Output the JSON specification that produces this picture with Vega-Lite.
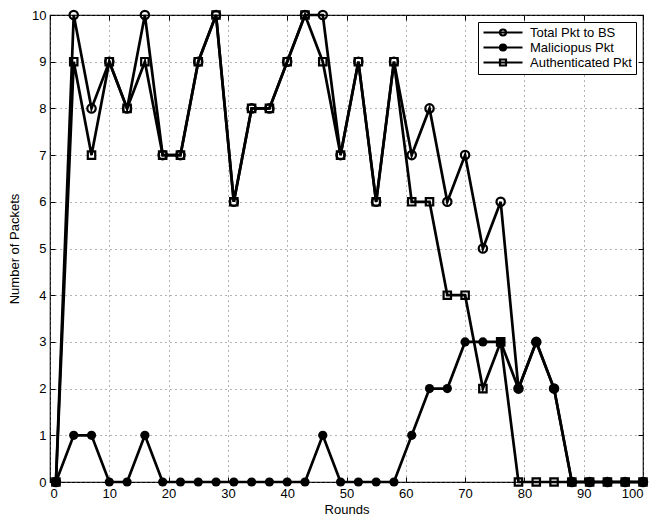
{
  "$schema": "https://vega.github.io/schema/vega-lite/v6.json",
  "width": 593,
  "height": 467,
  "autosize": {"type": "none"},
  "padding": {"left": 50, "top": 15, "right": 19, "bottom": 35},
  "background": "white",
  "config": {
    "font": "Liberation Sans",
    "view": {"stroke": "black", "strokeWidth": 1.2},
    "axis": {
      "domain": false,
      "grid": true,
      "gridColor": "#666666",
      "gridDash": [1, 4],
      "gridWidth": 1,
      "tickColor": "black",
      "tickSize": -5,
      "tickWidth": 1,
      "labelColor": "black",
      "labelFontSize": 13,
      "titleColor": "black",
      "titleFontSize": 13,
      "titleFontWeight": "normal"
    }
  },
  "data": {
    "values": [
      {"round": 1, "Total Pkt to BS": 0, "Maliciopus Pkt": 0, "Authenticated Pkt": 0},
      {"round": 4, "Total Pkt to BS": 10, "Maliciopus Pkt": 1, "Authenticated Pkt": 9},
      {"round": 7, "Total Pkt to BS": 8, "Maliciopus Pkt": 1, "Authenticated Pkt": 7},
      {"round": 10, "Total Pkt to BS": 9, "Maliciopus Pkt": 0, "Authenticated Pkt": 9},
      {"round": 13, "Total Pkt to BS": 8, "Maliciopus Pkt": 0, "Authenticated Pkt": 8},
      {"round": 16, "Total Pkt to BS": 10, "Maliciopus Pkt": 1, "Authenticated Pkt": 9},
      {"round": 19, "Total Pkt to BS": 7, "Maliciopus Pkt": 0, "Authenticated Pkt": 7},
      {"round": 22, "Total Pkt to BS": 7, "Maliciopus Pkt": 0, "Authenticated Pkt": 7},
      {"round": 25, "Total Pkt to BS": 9, "Maliciopus Pkt": 0, "Authenticated Pkt": 9},
      {"round": 28, "Total Pkt to BS": 10, "Maliciopus Pkt": 0, "Authenticated Pkt": 10},
      {"round": 31, "Total Pkt to BS": 6, "Maliciopus Pkt": 0, "Authenticated Pkt": 6},
      {"round": 34, "Total Pkt to BS": 8, "Maliciopus Pkt": 0, "Authenticated Pkt": 8},
      {"round": 37, "Total Pkt to BS": 8, "Maliciopus Pkt": 0, "Authenticated Pkt": 8},
      {"round": 40, "Total Pkt to BS": 9, "Maliciopus Pkt": 0, "Authenticated Pkt": 9},
      {"round": 43, "Total Pkt to BS": 10, "Maliciopus Pkt": 0, "Authenticated Pkt": 10},
      {"round": 46, "Total Pkt to BS": 10, "Maliciopus Pkt": 1, "Authenticated Pkt": 9},
      {"round": 49, "Total Pkt to BS": 7, "Maliciopus Pkt": 0, "Authenticated Pkt": 7},
      {"round": 52, "Total Pkt to BS": 9, "Maliciopus Pkt": 0, "Authenticated Pkt": 9},
      {"round": 55, "Total Pkt to BS": 6, "Maliciopus Pkt": 0, "Authenticated Pkt": 6},
      {"round": 58, "Total Pkt to BS": 9, "Maliciopus Pkt": 0, "Authenticated Pkt": 9},
      {"round": 61, "Total Pkt to BS": 7, "Maliciopus Pkt": 1, "Authenticated Pkt": 6},
      {"round": 64, "Total Pkt to BS": 8, "Maliciopus Pkt": 2, "Authenticated Pkt": 6},
      {"round": 67, "Total Pkt to BS": 6, "Maliciopus Pkt": 2, "Authenticated Pkt": 4},
      {"round": 70, "Total Pkt to BS": 7, "Maliciopus Pkt": 3, "Authenticated Pkt": 4},
      {"round": 73, "Total Pkt to BS": 5, "Maliciopus Pkt": 3, "Authenticated Pkt": 2},
      {"round": 76, "Total Pkt to BS": 6, "Maliciopus Pkt": 3, "Authenticated Pkt": 3},
      {"round": 79, "Total Pkt to BS": 2, "Maliciopus Pkt": 2, "Authenticated Pkt": 0},
      {"round": 82, "Total Pkt to BS": 3, "Maliciopus Pkt": 3, "Authenticated Pkt": 0},
      {"round": 85, "Total Pkt to BS": 2, "Maliciopus Pkt": 2, "Authenticated Pkt": 0},
      {"round": 88, "Total Pkt to BS": 0, "Maliciopus Pkt": 0, "Authenticated Pkt": 0},
      {"round": 91, "Total Pkt to BS": 0, "Maliciopus Pkt": 0, "Authenticated Pkt": 0},
      {"round": 94, "Total Pkt to BS": 0, "Maliciopus Pkt": 0, "Authenticated Pkt": 0},
      {"round": 97, "Total Pkt to BS": 0, "Maliciopus Pkt": 0, "Authenticated Pkt": 0},
      {"round": 100, "Total Pkt to BS": 0, "Maliciopus Pkt": 0, "Authenticated Pkt": 0}
    ]
  },
  "transform": [
    {"fold": ["Total Pkt to BS", "Maliciopus Pkt", "Authenticated Pkt"], "as": ["series", "packets"]}
  ],
  "resolve": {"axis": {"x": "independent", "y": "independent"}},
  "layer": [
    {
      "encoding": {
        "x": {
          "field": "round",
          "type": "quantitative",
          "scale": {"domain": [0, 100], "nice": false},
          "axis": {"title": "Rounds", "values": [0, 10, 20, 30, 40, 50, 60, 70, 80, 90, 100], "labelPadding": 10, "titlePadding": 3}
        },
        "y": {
          "field": "packets",
          "type": "quantitative",
          "scale": {"domain": [0, 10], "nice": false},
          "axis": {"title": "Number of Packets", "values": [0, 1, 2, 3, 4, 5, 6, 7, 8, 9, 10], "labelPadding": 9, "titlePadding": 10}
        }
      },
      "layer": [
        {
          "mark": {"type": "line", "color": "black", "strokeWidth": 2.7, "strokeJoin": "miter"},
          "encoding": {"detail": {"field": "series"}}
        },
        {
          "transform": [{"filter": "datum.series == 'Total Pkt to BS'"}],
          "mark": {"type": "point", "shape": "circle", "filled": false, "color": "black", "strokeWidth": 2.2, "size": 70, "opacity": 1}
        },
        {
          "transform": [{"filter": "datum.series == 'Authenticated Pkt'"}],
          "mark": {"type": "point", "shape": "square", "filled": false, "color": "black", "strokeWidth": 2.2, "size": 55, "opacity": 1}
        },
        {
          "transform": [{"filter": "datum.series == 'Maliciopus Pkt'"}],
          "mark": {"type": "point", "shape": "circle", "filled": true, "color": "black", "size": 85, "opacity": 1}
        },
        {
          "transform": [{"filter": "datum.round > 1000"}],
          "mark": {"type": "point", "filled": false, "color": "black", "opacity": 1},
          "encoding": {
            "shape": {
              "field": "series",
              "type": "nominal",
              "scale": {
                "domain": ["Total Pkt to BS", "Maliciopus Pkt", "Authenticated Pkt"],
                "range": [
                  "M-1,0H6.8M3.5,0A0.6,0.6,0,1,1,2.3,0A0.6,0.6,0,1,1,3.5,0Z",
                  "M-1,0H6.8M3.5,0A0.6,0.6,0,1,1,2.3,0A0.6,0.6,0,1,1,3.5,0ZM3.3,0A0.4,0.4,0,1,0,2.5,0A0.4,0.4,0,1,0,3.3,0Z",
                  "M-1,0H6.8M2.3,-0.6H3.5V0.6H2.3Z"
                ]
              },
              "legend": {
                "title": null,
                "orient": "top-right",
                "offset": 7,
                "strokeColor": "black",
                "fillColor": "white",
                "padding": 4,
                "labelFontSize": 13,
                "labelColor": "black",
                "symbolSize": 100,
                "symbolStrokeWidth": 2.2,
                "labelOffset": 35,
                "rowPadding": 0,
                "encode": {
                  "symbols": {
                    "update": {
                      "fill": {"value": "black"},
                      "stroke": {"value": "black"},
                      "strokeWidth": {"value": 2.2},
                      "opacity": {"value": 1}
                    }
                  }
                }
              }
            }
          }
        }
      ]
    },
    {
      "transform": [{"filter": "datum.round > 1000"}],
      "mark": {"type": "point"},
      "encoding": {
        "x": {
          "field": "round",
          "type": "quantitative",
          "axis": {"orient": "top", "values": [0, 10, 20, 30, 40, 50, 60, 70, 80, 90, 100], "labels": false, "grid": false, "title": null}
        },
        "y": {
          "field": "packets",
          "type": "quantitative",
          "axis": {"orient": "right", "values": [0, 1, 2, 3, 4, 5, 6, 7, 8, 9, 10], "labels": false, "grid": false, "title": null}
        }
      }
    }
  ]
}
